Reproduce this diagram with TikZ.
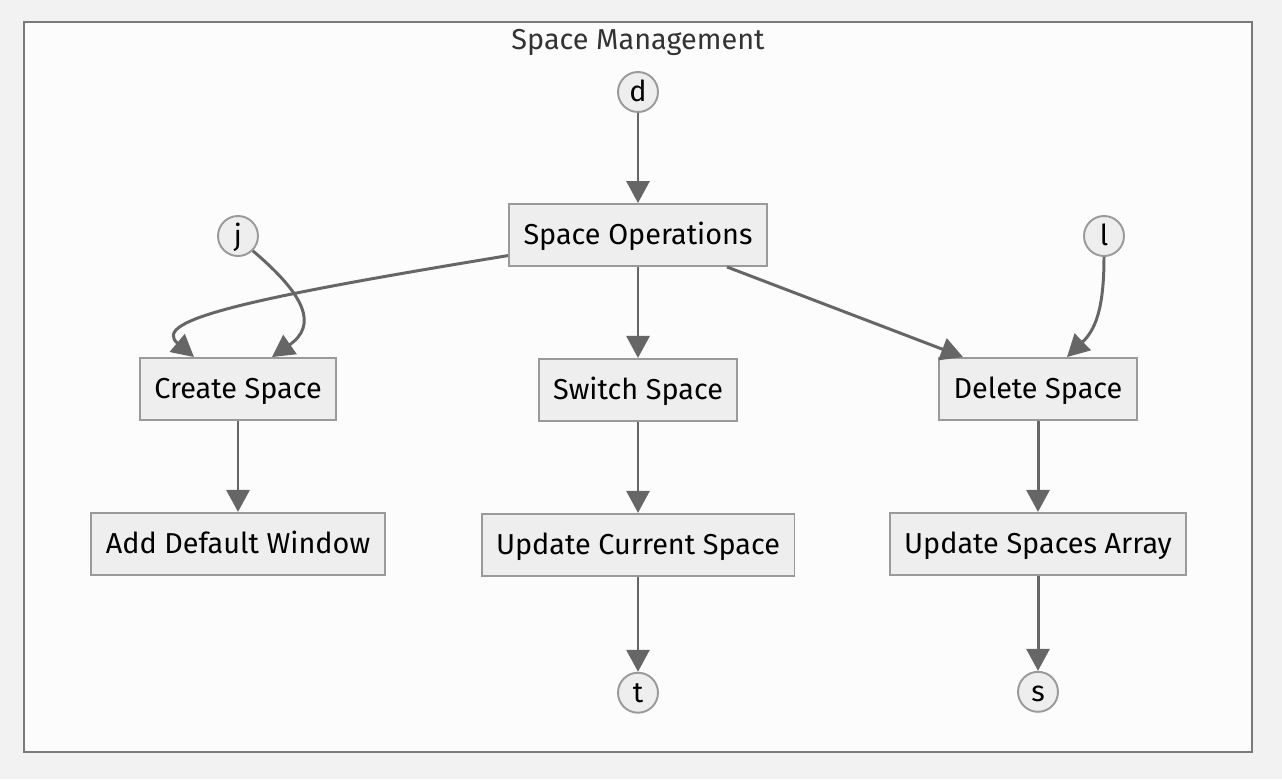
\documentclass[tikz,border=0pt]{standalone}
\usepackage{fontspec}
\setmainfont{Fira Sans}
\usepackage{tikz}
\usetikzlibrary{arrows.meta,positioning,calc}
\usepackage{xcolor}
\definecolor{pagebg}{HTML}{F2F2F2}
\definecolor{clusterbg}{HTML}{FCFCFC}
\definecolor{clusterline}{HTML}{7A7A7A}
\definecolor{boxfill}{HTML}{EEEEEE}
\definecolor{boxline}{HTML}{9A9A9A}
\definecolor{edgecol}{HTML}{666666}
\definecolor{titlecol}{HTML}{333333}

\begin{document}
\begin{tikzpicture}[x=0.02cm, y=-0.02cm, node distance=1.82cm,
    opbox/.style={draw=boxline, line width=1.1pt, fill=boxfill, rectangle, minimum height=1.24cm, inner xsep=0.29cm, text height=14pt, text depth=2.7pt, font=\fontsize{16.4}{19}\selectfont},
    endpt/.style={draw=boxline, line width=1.1pt, fill=boxfill, circle, minimum size=0.8cm, inner sep=0pt, text height=14pt, text depth=2.7pt, font=\fontsize{16.4}{19}\selectfont},
    flow/.style={draw=edgecol, line width=1.7pt, -{Triangle[length=0.44cm, width=0.46cm]}}]
        \fill[pagebg] (0,0) rectangle (1282,779);
        \draw[draw=clusterline, fill=clusterbg, line width=1.2pt] (24,22) rectangle (1252,752);
        \node[font=\fontsize{16.4}{19}\selectfont, text=titlecol] (title) at (638,42) {Space Management};

        \node[endpt] (d) at (638,92) {d};
        \node[opbox] (ops) at (638,235) {Space Operations};
        \node[endpt] (j) at (238,236) {j};
        \node[endpt] (l) at (1104,236) {l};

        \node[opbox] (create) at (238,389) {Create Space};
        \node[opbox, below=of ops] (switch) {Switch Space};
        \node[opbox] (delete) at (1038,389) {Delete Space};

        \node[opbox, below=of create] (adddef) {Add Default Window};
        \node[opbox, below=of switch] (updcur) {Update Current Space};
        \node[opbox, below=of delete] (updarr) {Update Spaces Array};

        \node[endpt, below=1.9cm of updcur] (t) {t};
        \node[endpt, below=1.9cm of updarr] (s) {s};

        \draw[flow] (d) -- (ops);
        \draw[flow] (ops.189) .. controls (250,298) and (150,320) .. ($(create.north)+(-44,0)$);
        \draw[flow] (j.-45) .. controls (305,295) and (318,325) .. ($(create.north)+(34,0)$);
        \draw[flow] (ops) -- (switch);
        \draw[flow] ($(ops.south)+(89,0)$) -- ($(delete.north)+(-75,0)$);
        \draw[flow] (l.south) .. controls (1104,310) and (1095,330) .. ($(delete.north)+(29,0)$);
        \draw[flow] (create) -- (adddef);
        \draw[flow] (switch) -- (updcur);
        \draw[flow] (delete) -- (updarr);
        \draw[flow] (updcur) -- (t);
        \draw[flow] (updarr) -- (s);
\end{tikzpicture}
\end{document}
